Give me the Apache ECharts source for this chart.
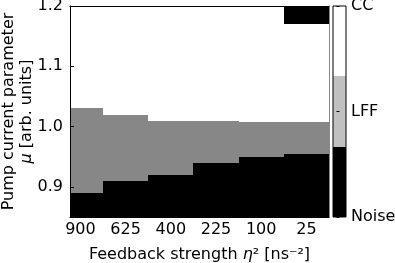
<!DOCTYPE html>
<html><head><meta charset="utf-8">
<script src="https://cdn.jsdelivr.net/npm/echarts@6/dist/echarts.min.js"></script>
<style>html,body{margin:0;padding:0;background:#fff}#c{width:395px;height:263px}</style>
</head><body><div id="c"></div>
<script>
// Data
const etaSqLabels = ['900', '625', '400', '225', '100', '25'];
const noiseTop = [0.89, 0.91, 0.92, 0.94, 0.95, 0.955];   // upper edge of Noise region
const lffTop   = [1.03, 1.02, 1.01, 1.01, 1.007, 1.007];  // upper edge of LFF region
const ccTop    = [1.2, 1.2, 1.2, 1.2, 1.2, 1.17];         // upper edge of CC region
const muMin = 0.85, muMax = 1.2;
const muTicks = [0.9, 1.0, 1.1, 1.2];
const stateNames = ['Noise', 'LFF', 'CC'];
const cbEdges = [0, 2/3, 4/3, 2];
const cbTicks = [0, 1, 2];

const plotColors = ['#000000', '#878787', '#ffffff'];
const cbColors = ['#000000', '#c0c0c0', '#ffffff'];

const cells = [];
etaSqLabels.forEach((_, i) => {
  cells.push([i, muMin, noiseTop[i], 0]);
  cells.push([i, noiseTop[i], lffTop[i], 1]);
  cells.push([i, lffTop[i], ccTop[i], 2]);
  if (ccTop[i] < muMax) cells.push([i, ccTop[i], muMax, 0]);
});
const cbCells = stateNames.map((_, k) => [0, cbEdges[k], cbEdges[k + 1], k]);

function rectItem(colors, halfW) {
  return function (params, api) {
    const x = api.value(0), y0 = api.value(1), y1 = api.value(2), s = api.value(3);
    const p0 = api.coord([x - halfW, y1]);
    const p1 = api.coord([x + halfW, y0]);
    const cs = params.coordSys;
    const r = echarts.graphic.clipRectByRect(
      { x: p0[0], y: p0[1], width: p1[0] - p0[0], height: p1[1] - p0[1] },
      { x: cs.x, y: cs.y, width: cs.width, height: cs.height });
    if (!r) return null;
    const xa = Math.round(r.x), ya = Math.round(r.y);
    const xb = Math.round(r.x + r.width), yb = Math.round(r.y + r.height);
    return { type: 'rect', shape: { x: xa, y: ya, width: xb - xa, height: yb - ya }, style: { fill: colors[s] } };
  };
}

const F = 'DejaVu Sans';
const FS = 16;
const chart = echarts.init(document.getElementById('c'), null, { renderer: 'canvas' });
chart.setOption({
  animation: false,
  backgroundColor: '#fff',
  textStyle: { fontFamily: F },
  grid: [
    { left: 70, top: 6, width: 259, height: 211, show: false, containLabel: false, outerBoundsMode: 'none' },
    { left: 333, top: 6, width: 13, height: 211, show: true, borderColor: '#000', borderWidth: 1, backgroundColor: 'transparent', z: 10, containLabel: false, outerBoundsMode: 'none' }
  ],
  xAxis: [
    { type: 'value', gridIndex: 0, min: -0.23, max: 5.5, position: 'bottom', z: 5,
      axisLine: { show: true, onZero: false, lineStyle: { color: '#000', width: 1 } },
      axisTick: { show: true, inside: true, length: 4, customValues: etaSqLabels.map((_, i) => i), lineStyle: { color: '#000' } },
      axisLabel: { customValues: etaSqLabels.map((_, i) => i), formatter: v => etaSqLabels[Math.round(v)], color: '#000', fontSize: FS, fontFamily: F, margin: 5 },
      splitLine: { show: false },
      name: 'Feedback strength {i|η}² [ns⁻²]', nameLocation: 'middle', nameGap: 30, nameMoveOverlap: false,
      nameTextStyle: { color: '#000', fontSize: FS, fontFamily: F, rich: { i: { fontStyle: 'italic', fontSize: FS, fontFamily: F, color: '#000' } } } },
    { type: 'value', gridIndex: 0, min: -0.23, max: 5.5, position: 'top', z: 5,
      axisLine: { show: true, onZero: false, lineStyle: { color: '#000', width: 1 } },
      axisTick: { show: false }, axisLabel: { show: false }, splitLine: { show: false } },
    { type: 'value', gridIndex: 1, min: -0.5, max: 0.5, show: false }
  ],
  yAxis: [
    { type: 'value', gridIndex: 0, min: muMin, max: muMax, position: 'left', z: 5,
      axisLine: { show: true, onZero: false, lineStyle: { color: '#000', width: 1 } },
      axisTick: { show: true, inside: true, length: 4, customValues: muTicks, lineStyle: { color: '#000' } },
      axisLabel: { customValues: muTicks, formatter: v => v.toFixed(1), color: '#000', fontSize: FS, fontFamily: F, margin: 7 },
      splitLine: { show: false },
      name: 'Pump current parameter\n{i|μ} [arb. units]', nameLocation: 'middle', nameRotate: 90, nameGap: 34, nameMoveOverlap: false,
      nameTextStyle: { color: '#000', fontSize: FS, fontFamily: F, lineHeight: 18, rich: { i: { fontStyle: 'italic', fontSize: FS, fontFamily: F, color: '#000', lineHeight: 18 } } } },
    { type: 'value', gridIndex: 0, min: muMin, max: muMax, position: 'right', z: 5,
      axisLine: { show: true, onZero: false, lineStyle: { color: '#888', width: 1 } },
      axisTick: { show: false }, axisLabel: { show: false }, splitLine: { show: false } },
    { type: 'value', gridIndex: 1, min: 0, max: 2, position: 'right', z: 12,
      axisLine: { show: false },
      axisTick: { show: true, inside: true, length: 3, customValues: cbTicks, lineStyle: { color: '#000' } },
      axisLabel: { customValues: cbTicks, formatter: v => stateNames[Math.round(v)], color: '#000', fontSize: FS, fontFamily: F, margin: 5 },
      splitLine: { show: false } }
  ],
  series: [
    { type: 'custom', xAxisIndex: 0, yAxisIndex: 0, data: cells, renderItem: rectItem(plotColors, 0.5), z: 1 },
    { type: 'custom', xAxisIndex: 2, yAxisIndex: 2, data: cbCells, renderItem: rectItem(cbColors, 0.5), z: 1 }
  ]
});
</script></body></html>
